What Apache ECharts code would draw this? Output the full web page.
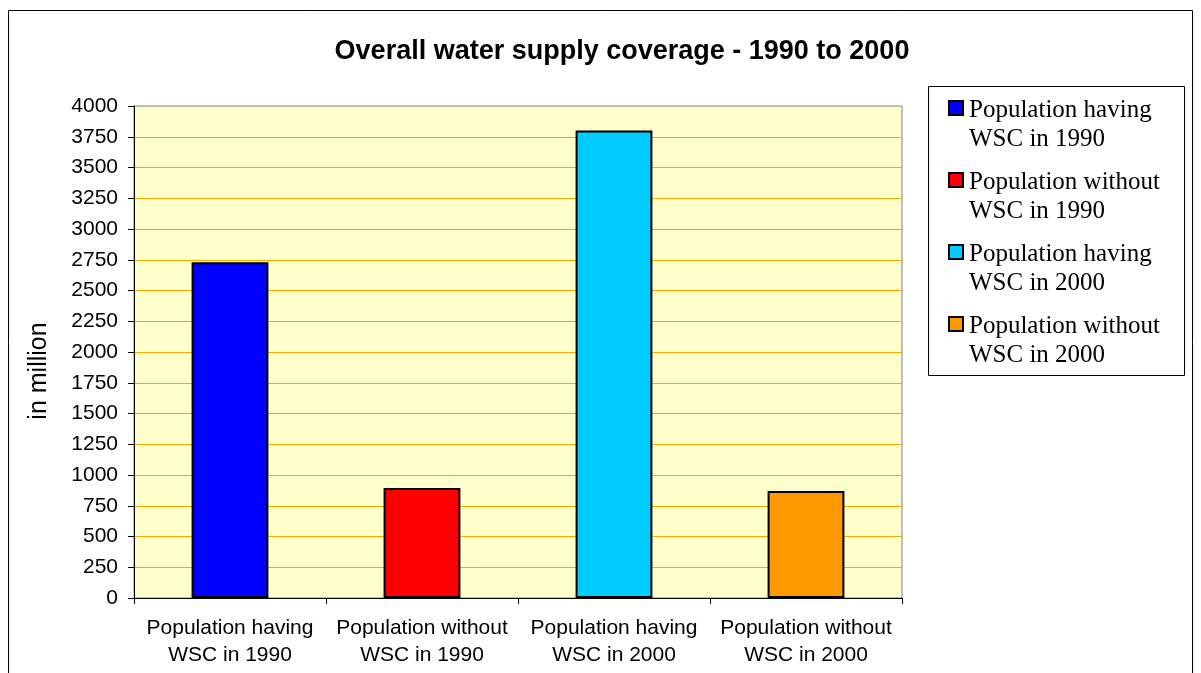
<!DOCTYPE html>
<html>
<head>
<meta charset="utf-8">
<script src="https://cdn.jsdelivr.net/npm/echarts@6/dist/echarts.min.js"></script>
<style>
  html, body { margin: 0; padding: 0; background: #fff; }
  #chart { width: 1201px; height: 673px; }
</style>
</head>
<body>
<div id="chart"></div>
<script>
// Water supply coverage (WSC), population in millions
const categories = [
  'Population having\nWSC in 1990',
  'Population without\nWSC in 1990',
  'Population having\nWSC in 2000',
  'Population without\nWSC in 2000'
];
const values = [2730, 895, 3800, 870];
const colors = ['#0000FF', '#FF0000', '#00CCFF', '#FF9900'];
const yTicks = { min: 0, max: 4000, interval: 250 };

const chart = echarts.init(document.getElementById('chart'));

// one series per category, each filling only its own slot
const series = categories.map((name, i) => ({
  name: name,
  type: 'bar',
  stack: 'all',
  barWidth: '40%',
  data: values.map((v, j) => (j === i ? v : '-')),
  itemStyle: { color: colors[i], borderColor: '#000', borderWidth: 2 }
}));

// boxed legend on the right: square key followed by two text lines
const legendBox = { x: 928.5, y: 86.5, w: 256, h: 289 };
const legendItems = [];
categories.forEach((name, i) => {
  const top = 100 + i * 72;
  const lines = name.split('\n');
  legendItems.push({
    type: 'rect',
    shape: { x: 949, y: top + 1, width: 14, height: 14 },
    style: { fill: colors[i], stroke: '#000', lineWidth: 2 }
  });
  lines.forEach((line, k) => {
    legendItems.push({
      type: 'text',
      x: 969, y: top + 10 + k * 29,
      style: {
        text: line,
        fill: '#000',
        font: '25px "Liberation Serif", "DejaVu Serif", serif',
        verticalAlign: 'middle',
        align: 'left'
      }
    });
  });
});

chart.setOption({
  animation: false,
  backgroundColor: '#fff',
  title: {
    text: 'Overall water supply coverage - 1990 to 2000',
    left: 617, top: 33, textAlign: 'center',
    textStyle: { fontFamily: 'Liberation Sans, Arial', fontWeight: 'bold', fontSize: 27, color: '#000' }
  },
  grid: {
    left: 134, right: 299, top: 106, bottom: 75,
    show: true, backgroundColor: '#FFFFCC', borderColor: '#808080', borderWidth: 1
  },
  xAxis: {
    type: 'category',
    data: categories,
    axisLine: { lineStyle: { color: '#000', width: 1 } },
    axisTick: { show: true, interval: 0, length: 6, lineStyle: { color: '#000' } },
    axisLabel: { interval: 0, fontFamily: 'Liberation Sans, Arial', fontSize: 21, color: '#000', lineHeight: 27, margin: 17 }
  },
  yAxis: {
    type: 'value',
    min: yTicks.min, max: yTicks.max, interval: yTicks.interval,
    name: 'in million',
    nameLocation: 'middle',
    nameGap: 82,
    nameRotate: 90,
    nameTextStyle: { fontFamily: 'Liberation Sans, Arial', fontSize: 25, color: '#000', padding: [0, 38, 0, 0] },
    axisLine: { show: true, lineStyle: { color: '#000' } },
    axisTick: { show: true, length: 6, lineStyle: { color: '#000' } },
    axisLabel: {
      fontFamily: 'Liberation Sans, Arial', fontSize: 21, color: '#000', margin: 16,
      formatter: v => String(v)
    },
    splitLine: { showMinLine: false, showMaxLine: false, lineStyle: { color: '#FFA500', width: 1.2 } }
  },
  graphic: [
    {
      type: 'rect',
      shape: { x: 8.5, y: 10.5, width: 1184, height: 680 },
      style: { fill: 'none', stroke: '#000', lineWidth: 1 },
      silent: true, z: -1
    },
    {
      type: 'group',
      silent: true,
      children: [{
        type: 'rect',
        shape: { x: legendBox.x, y: legendBox.y, width: legendBox.w, height: legendBox.h },
        style: { fill: '#fff', stroke: '#000', lineWidth: 1 }
      }].concat(legendItems)
    }
  ],
  series: series
});
</script>
</body>
</html>
